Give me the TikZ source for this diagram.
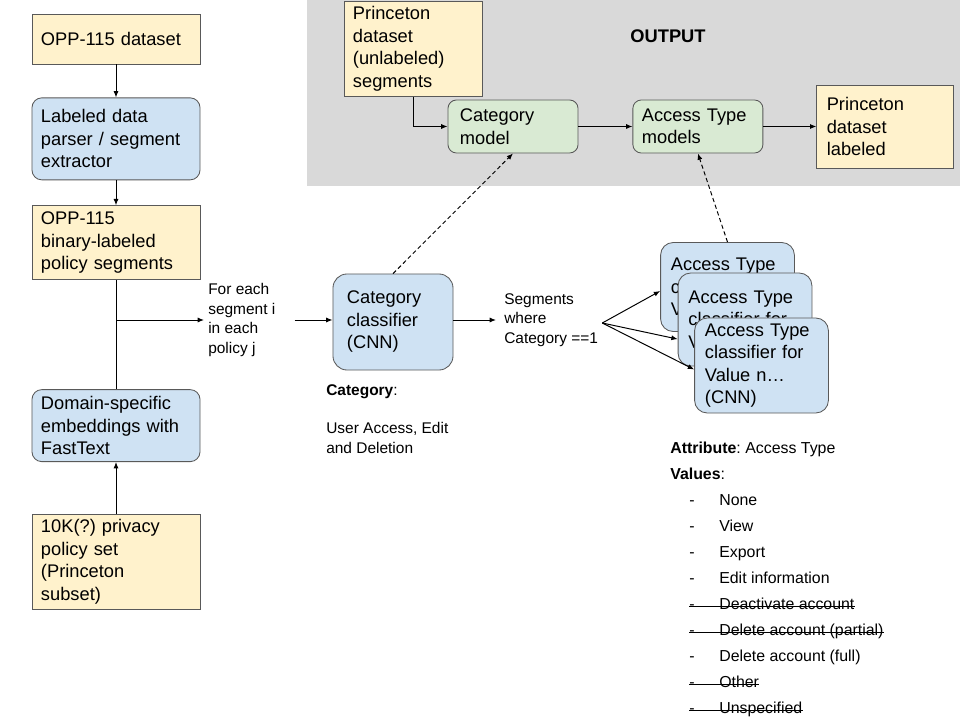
\documentclass[tikz,border=0pt]{standalone}
\usepackage{fontspec}
\setmainfont{Liberation Sans}
\usetikzlibrary{arrows.meta, positioning}
\definecolor{DataYellow}{HTML}{FFF2CC}
\definecolor{ProcBlue}{HTML}{CFE2F3}
\definecolor{ModelGreen}{HTML}{D9EAD3}
\definecolor{OutGray}{HTML}{D9D9D9}
\definecolor{EdgeGray}{HTML}{595959}
\frenchspacing

\begin{document}
\begin{tikzpicture}[
    x=0.025cm, y=-0.025cm,
    % Estilos para cajas de datos
    datafile/.style={
            rectangle,
            draw=EdgeGray,
            line width=0.6pt,
            fill=DataYellow,
            align=left,
            inner xsep=0.225cm,
            inner ysep=0.1cm,
            font=\fontsize{13}{16}\selectfont
        },
    % Estilo para procesos
    process/.style={
            datafile,
            rounded corners=7pt,
            fill=ProcBlue
        },
    % Estilo para modelos
    model/.style={
            datafile,
            rounded corners=6pt,
            fill=ModelGreen
        },
    % Clasificadores
    classifier/.style={
            datafile,
            rounded corners=9pt,
            fill=ProcBlue,
            text width=2.825cm,
            inner xsep=0.26cm
        },
    % Textos sueltos
    note/.style={
            align=left,
            inner sep=0.1cm,
            font=\fontsize{11}{13.8}\selectfont
        },
    listitem/.style={
            anchor=west,
            inner sep=0pt,
            text height=0.72em,
            text depth=0.2em,
            font=\fontsize{11.3}{13.8}\selectfont
        },
    % Flechas
    arrow/.style={
    -{Latex[length=4.5pt,width=3.6pt]},
    line width=0.7pt
    },
    dasharrow/.style={
    arrow,
    dash pattern=on 3pt off 2pt
    },
    plainline/.style={
    line width=0.7pt
    },
    % Zona de salida
    outzone/.style={
            rectangle,
            fill=OutGray,
            inner sep=0pt
        }
    ]
    \useasboundingbox (0,0) rectangle (960,720);

    % ========== ZONA OUTPUT ==========
    \node[outzone, anchor=north west, minimum width=16.325cm, minimum height=4.65cm] (outarea) at (307,0) {};
    \node[font=\bfseries\fontsize{13}{16}\selectfont] (outtitle) at (668,36) {OUTPUT};

    % ========== COLUMNA IZQUIERDA ==========
    \node[datafile, text width=3.75cm, minimum height=1.25cm] (opp) at (116,39) {OPP-115 dataset};
    \node[process, text width=3.75cm, minimum height=2.05cm, below=0.825cm of opp] (parser) {Labeled data\\parser / segment\\extractor};
    \node[datafile, text width=3.75cm, minimum height=1.85cm, below=0.625cm of parser] (binary) {OPP-115\\binary-labeled\\policy segments};
    \node[process, text width=3.75cm, minimum height=1.8cm, below=2.725cm of binary] (domain) {Domain-specific\\embeddings with\\FastText};
    \node[datafile, text width=3.75cm, minimum height=2.375cm, below=1.3cm of domain] (tenk) {10K(?) privacy\\policy set\\(Princeton\\subset)};

    % ========== CLASIFICADOR DE CATEGORIA ==========
    \node[note, anchor=west] (loopnote) at (204,320) {For each\\segment i\\in each\\policy j};
    \node[classifier, text width=2.3cm, inner xsep=0.35cm, rounded corners=10pt, minimum height=2.4cm] (catclf) at (393,322) {Category\\classifier\\(CNN)};
    \node[note, anchor=north west] (catnote) at (322,380) {\textbf{Category}:\\[13.8pt]User Access, Edit\\and Deletion};
    \node[note, anchor=west] (segnote) at (500,320) {Segments\\where\\Category ==1};

    % ========== CLASIFICADORES DE ACCESS TYPE ==========
    \node[classifier, minimum height=2.225cm] (at1) at (727.5,287) {Access Type\\classifier for\\Value 1};
    \node[classifier, minimum height=2.325cm] (at2) at (745,319.5) {Access Type\\classifier for\\Value 2};
    \node[classifier, minimum height=2.375cm] (at3) at (761.5,365.5) {Access Type\\classifier for\\Value n\ldots\\(CNN)};

    % ========== MODELOS (OUTPUT) ==========
    \node[datafile, text width=3cm, minimum height=2.375cm] (princeu) at (413,49) {Princeton\\dataset\\(unlabeled)\\segments};
    \node[model, text width=2.65cm, inner xsep=0.3cm, minimum height=1.325cm] (catmodel) at (513,126.5) {Category\\model};
    \node[model, text width=2.8cm, minimum height=1.325cm, right=1.35cm of catmodel] (atmodel) {Access Type\\models};
    \node[datafile, text width=2.925cm, inner xsep=0.25cm, minimum height=2.075cm, right=1.325cm of atmodel] (princel) {Princeton\\dataset\\labeled};

    % ========== ATRIBUTO Y VALORES ==========
    \node[listitem] (attr) at (670,450) {\textbf{Attribute}: Access Type};
    \node[listitem] (vals) at (670,476) {\textbf{Values}:};
    \foreach \val/\cut [count=\i] in {None/0, View/0, Export/0, Edit information/0,
        Deactivate account/1, Delete account (partial)/1, Delete account (full)/0,
        Other/1, Unspecified/1} {
        \node[listitem] (dash\i) at (689,{476+26*\i}) {-};
        \node[listitem] (val\i) at (719,{476+26*\i}) {\val};
        \ifnum\cut=1
            \draw[line width=0.6pt] (dash\i.west) -- (val\i.east);
        \fi
    }

    % ========== FLECHAS ==========
    \draw[arrow] (opp.south) -- (parser.north);
    \draw[arrow] (parser.south) -- (binary.north);
    \draw[plainline] (binary.south) -- (domain.north);
    \draw[arrow] (tenk.north) -- (domain.south);
    \draw[arrow] (binary.south |- loopnote.west) -- (loopnote.west);
    \draw[arrow] ([xshift=0.375cm]loopnote.east) -- (catclf.west |- loopnote.east);
    \draw[arrow] (catclf.east |- segnote.west) -- ([xshift=-0.1cm]segnote.west);

    % Abanico hacia los clasificadores
    \coordinate (fan) at ([yshift=-0.075cm]segnote.east);
    \draw[arrow] (fan) -- ([yshift=-0.1cm]at1.west);
    \draw[arrow] (fan) -- ([yshift=-0.49cm]at2.west);
    \draw[arrow] (fan) -- ([yshift=-0.1cm]at3.west);

    % Flechas punteadas hacia los modelos
    \draw[dasharrow] (catclf.north) -- (catmodel.south);
    \draw[dasharrow] (at1.north) -- (atmodel.south);

    % Flechas de la zona OUTPUT
    \draw[arrow] (princeu.south) |- (catmodel.west);
    \draw[arrow] (catmodel.east) -- (atmodel.west);
    \draw[arrow] (atmodel.east) -- (princel.west);

\end{tikzpicture}
\end{document}
